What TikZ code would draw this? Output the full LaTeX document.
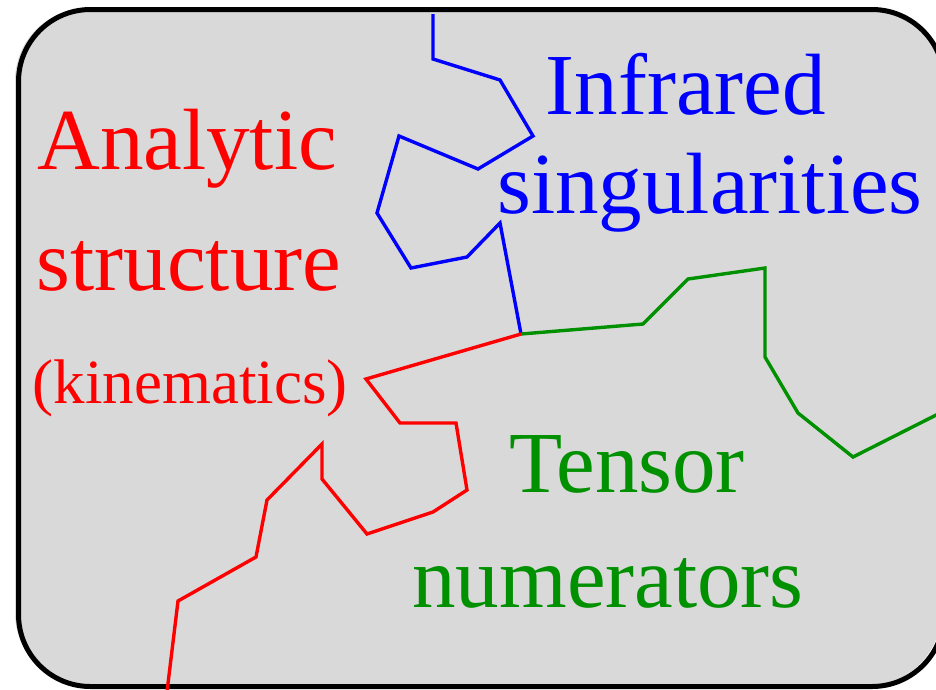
\documentclass[tikz,border=0pt]{standalone}
\usepackage{fontspec}
\setmainfont{Liberation Serif}
\definecolor{boxgray}{RGB}{217,217,217}
\definecolor{tensorgreen}{RGB}{0,144,0}
\begin{document}
\begin{tikzpicture}[x=1pt, y=-1pt,
    every node/.style={inner sep=0pt, anchor=base},
    big label/.style={font=\fontsize{87}{100}\selectfont},
    small label/.style={font=\fontsize{63}{75}\selectfont},
    wiggle/.style={line width=3.4pt, line join=miter}]
  \useasboundingbox (0,0) rectangle (936,689);
  \clip (0,0) rectangle (936,689);
  % the box
  \fill[boxgray, rounded corners=72pt] (15,8.5) rectangle (941,685);
  \draw[line width=5pt, rounded corners=72pt] (18.5,9.5) rectangle (944,686.5);
  % labels
  \node[big label, red] (analytic) at (187,169) {Analytic};
  \node[big label, red] (structure) at (189,290) {structure};
  \node[small label, red] (kinematics) at (190,403) {(kinematics)};
  \node[big label, blue] (infrared) at (686,114) {Infrared};
  \node[big label, blue] (singularities) at (710,213) {singularities};
  \node[big label, tensorgreen] (tensor) at (627,492) {Tensor};
  \node[big label, tensorgreen] (numerators) at (608,607) {numerators};
  % the three wiggly lines
  \coordinate (junction) at (521,334);
  \coordinate (ir end) at (433,14);
  \coordinate (tn end) at (950,408);
  \coordinate (as end) at (166,700);
  \draw[wiggle, blue] (junction) -- (500,223) -- (467,257) -- (411,268)
    -- (377,213) -- (399,136) -- (478,169) -- (533,136) -- (500,80)
    -- (433,59) -- (ir end);
  \draw[wiggle, tensorgreen] (junction) -- (643,324) -- (688,279)
    -- (765,268) -- (765,357) -- (798,413) -- (853,457) -- (tn end);
  \draw[wiggle, red] (junction) -- (366,379) -- (400,423) -- (456,423)
    -- (467,490) -- (433,512) -- (367,534) -- (322,479) -- (322,444)
    -- (267,500) -- (256,557) -- (178,601) -- (as end);
\end{tikzpicture}
\end{document}
